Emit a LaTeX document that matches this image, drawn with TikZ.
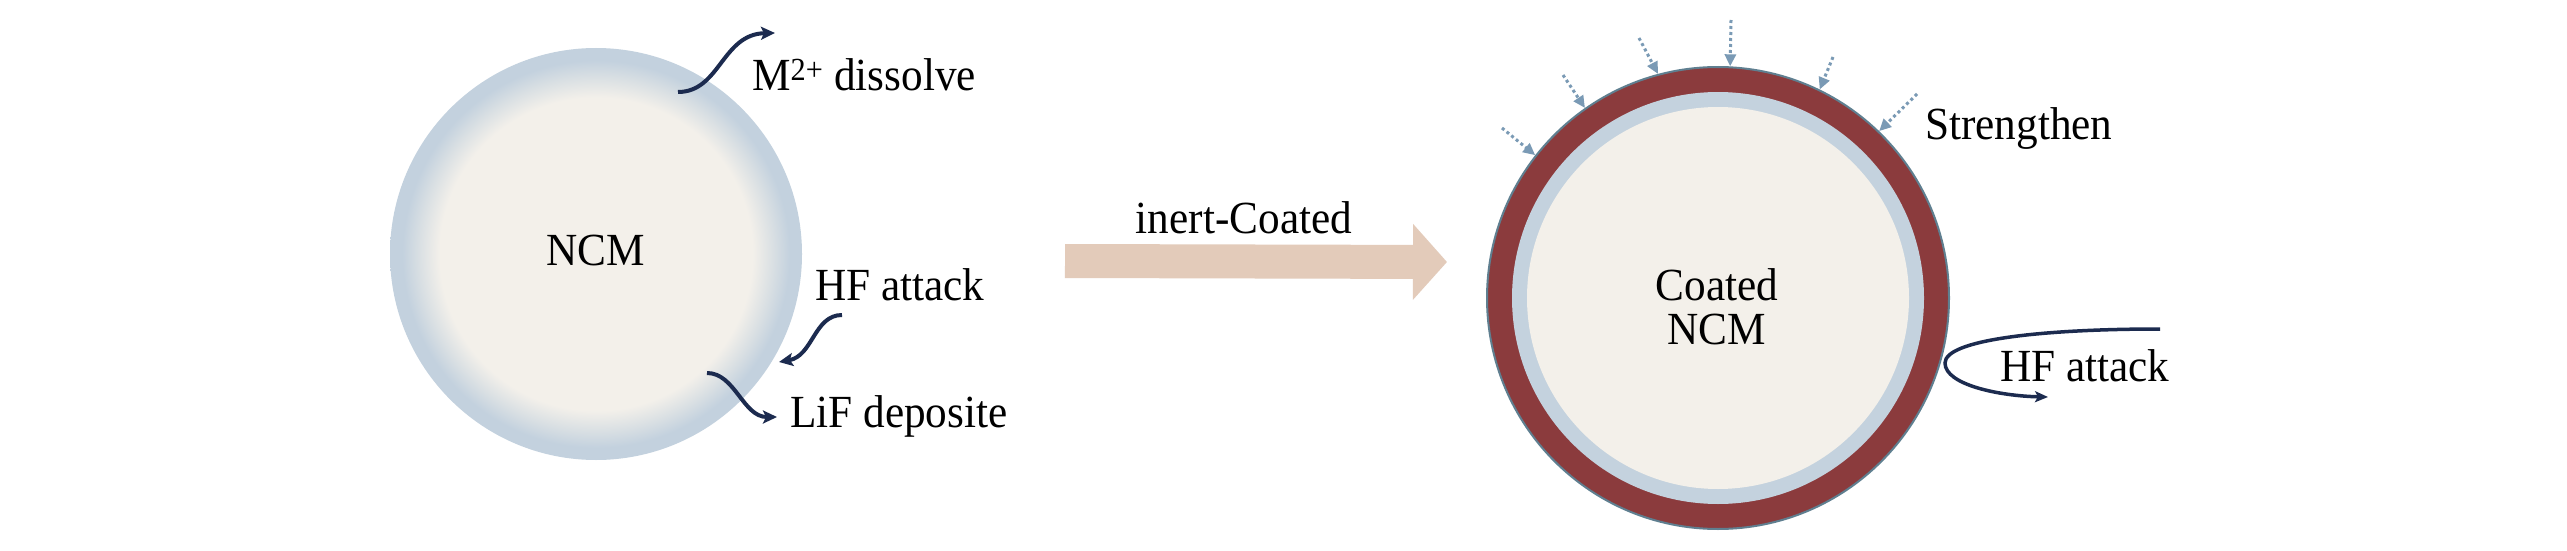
\documentclass[tikz,border=0pt]{standalone}
\usepackage{fontspec}
\setmainfont{Liberation Serif}[FakeStretch=0.94]
\usetikzlibrary{arrows.meta}
\definecolor{cream}{HTML}{F3F0EA}
\definecolor{edgeblue}{HTML}{C4D2DE}
\definecolor{coatred}{HTML}{8B3B3D}
\definecolor{rimgray}{HTML}{5F7F90}
\definecolor{navy}{HTML}{1C2B4F}
\definecolor{dotblue}{HTML}{7A9AB5}
\definecolor{tanarrow}{HTML}{E3CBBA}
\pgfdeclareradialshading{ncmshade}{\pgfpointorigin}{rgb(0bp)=(0.953,0.941,0.918); rgb(19bp)=(0.953,0.941,0.918); rgb(21.5bp)=(0.85,0.875,0.89); rgb(23.5bp)=(0.765,0.82,0.871); rgb(50bp)=(0.765,0.82,0.871)}
\tikzset{
  lbl/.style={inner sep=0pt, text=black, font=\fontsize{46}{52}\selectfont},
  navyarrow/.style={draw=navy, line width=4pt, -{Stealth[length=14pt,width=13pt,inset=3pt]}},
  thinnavy/.style={draw=navy, line width=3.5pt, -{Stealth[length=13pt,width=11pt,inset=3pt]}},
  dotarrow/.style={draw=dotblue, line width=3pt, dash pattern=on 3pt off 3pt, -{Triangle[length=12pt,width=11pt]}},
  bigarrow/.style={draw=tanarrow, line width=34pt, -{Triangle[length=34pt,width=74pt]}},
}
\begin{document}
\begin{tikzpicture}[x=1pt,y=-1pt]
\useasboundingbox (0,0) rectangle (2567,551);
\fill[white] (0,0) rectangle (2567,551);
% left particle
\node[circle, inner sep=0pt, minimum size=412pt, shade, shading=ncmshade] (ncm) at (596,254) {};
\node[lbl, anchor=base] (ncmtxt) at (596,265) {NCM};
% left arrows
\coordinate (m1) at (678,92);
\coordinate (m2) at (775,33);
\draw[navyarrow] (m1) .. controls (720,92) and (722,34) .. (m2);
\node[lbl, anchor=base west] (dissolve) at (752,90) {M\textsuperscript{2+} dissolve};
\coordinate (h1) at (842,315);
\coordinate (h2) at (779,362);
\draw[navyarrow] (h1) .. controls (814,315) and (813,356) .. (h2);
\node[lbl, anchor=base west] (hfleft) at (815,300) {HF attack};
\coordinate (l1) at (707,373);
\coordinate (l2) at (777,417);
\draw[navyarrow] (l1) .. controls (735,373) and (743,417) .. (l2);
\node[lbl, anchor=base west] (lif) at (790,427) {LiF deposite};
% big arrow
\coordinate (bigs) at (1065,261);
\coordinate (bige) at (1447,262);
\draw[bigarrow] (bigs) -- (bige);
\node[lbl, anchor=base] (inert) at (1244,233) {inert-Coated};
% right particle
\node[circle, inner sep=0pt, minimum size=462pt, fill=coatred, draw=rimgray, line width=2pt] (coat) at (1718,298) {};
\node[circle, inner sep=0pt, minimum size=412pt, fill=edgeblue] (shell) at (coat.center) {};
\node[circle, inner sep=0pt, minimum size=382pt, fill=cream] (core) at (coat.center) {};
\node[lbl, anchor=base] (coatedtxt) at (1717,300) {Coated};
\node[lbl, anchor=base] (ncmtxtb) at (1717,344) {NCM};
% strengthen arrows
\coordinate (sa) at (1502,128);
\coordinate (sb) at (1563,75);
\coordinate (sc) at (1639,38);
\coordinate (sd) at (1731,20);
\coordinate (se) at (1833,57);
\coordinate (sf) at (1917,94);
\draw[dotarrow] (sa) -- (coat.142);
\draw[dotarrow] (sb) -- (coat.125);
\draw[dotarrow] (sc) -- (coat.105);
\draw[dotarrow] (sd) -- (coat.87);
\draw[dotarrow] (se) -- (coat.64);
\draw[dotarrow] (sf) -- (coat.46);
\node[lbl, anchor=base west] (strength) at (1925,139) {Strengthen};
% right HF attack
\coordinate (r1) at (2160,329);
\coordinate (rmid) at (1945,363);
\coordinate (r2) at (2048,397);
\draw[thinnavy] (r1) .. controls (2040,329) and (1945,340) .. (rmid) .. controls (1945,385) and (2000,396) .. (r2);
\node[lbl, anchor=base west] (hfright) at (2000,381) {HF attack};
\end{tikzpicture}
\end{document}
